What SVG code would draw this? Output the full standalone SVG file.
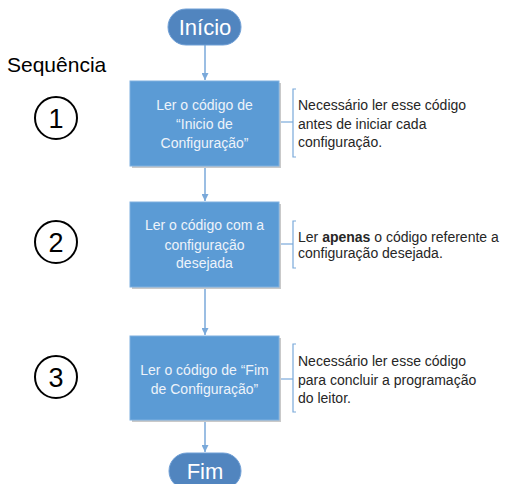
<svg xmlns="http://www.w3.org/2000/svg" width="505" height="484" viewBox="0 0 505 484">
<defs>
<style>
.pill{fill:#5185bf;stroke:#6f9fd6;stroke-width:1}
.pt{font-family:"Liberation Sans",Arial,sans-serif;font-size:22px;fill:#ffffff;text-anchor:middle}
.box{fill:#5b9bd5;stroke:#7eb0e0;stroke-width:1}
.shadow{fill:#c9c9c9}
.bt{font-family:"Liberation Sans",Arial,sans-serif;font-size:14px;fill:#eef3fa;text-anchor:middle}
.nt{font-family:"Liberation Sans",Arial,sans-serif;font-size:14px;fill:#262626}
.line{stroke:#7aa9da;stroke-width:1.5;fill:none}
.br{stroke:#7aa9da;stroke-width:1.2;fill:none}
.circ{fill:none;stroke:#000;stroke-width:2}
.num{font-family:"Liberation Sans",Arial,sans-serif;font-size:27px;fill:#000;text-anchor:middle}
</style>
<marker id="arr" viewBox="0 0 10 10" refX="10" refY="5" markerWidth="7" markerHeight="7" orient="auto" markerUnits="userSpaceOnUse">
<path d="M0,0 L10,5 L0,10 z" fill="#7aa9da"/>
</marker>
</defs>
<rect width="505" height="484" fill="#ffffff"/>
<text x="7" y="72" font-family="'Liberation Sans',Arial,sans-serif" font-size="21" fill="#000">Sequência</text>

<g id="connectors">
<line class="line" x1="205" y1="45" x2="205" y2="80" marker-end="url(#arr)"/>
<line class="line" x1="205" y1="166" x2="205" y2="201" marker-end="url(#arr)"/>
<line class="line" x1="205" y1="287" x2="205" y2="335" marker-end="url(#arr)"/>
<line class="line" x1="205" y1="420" x2="205" y2="452" marker-end="url(#arr)"/>
<line class="br" x1="279" y1="122" x2="293" y2="122"/>
<line class="br" x1="279" y1="244" x2="293" y2="244"/>
<line class="br" x1="279" y1="379" x2="293" y2="379"/>
</g>

<g id="inicio">
<rect class="pill" x="168" y="9" width="73" height="36" rx="18"/>
<text class="pt" x="205" y="35">Início</text>
</g>

<g id="step1">
<rect class="shadow" x="132" y="83" width="149" height="85"/>
<rect class="box" x="130" y="81" width="149" height="85"/>
<text class="bt" x="204.5" y="110">Ler o código de</text>
<text class="bt" x="204.5" y="129">“Inicio de</text>
<text class="bt" x="204.5" y="148">Configuração”</text>
</g>

<g id="step2">
<rect class="shadow" x="132" y="204" width="149" height="85"/>
<rect class="box" x="130" y="202" width="149" height="85"/>
<text class="bt" x="204.5" y="230">Ler o código com a</text>
<text class="bt" x="204.5" y="250">configuração</text>
<text class="bt" x="204.5" y="268">desejada</text>
</g>

<g id="step3">
<rect class="shadow" x="132" y="338" width="149" height="84"/>
<rect class="box" x="130" y="336" width="149" height="84"/>
<text class="bt" x="204.5" y="375">Ler o código de “Fim</text>
<text class="bt" x="204.5" y="394">de Configuração”</text>
</g>

<g id="fim">
<rect class="pill" x="169" y="453" width="72" height="36" rx="18"/>
<text class="pt" x="205" y="479">Fim</text>
</g>

<g id="note1">
<path class="br" d="M296,89 H293 V157 H296"/>
<text class="nt" x="298" y="110">Necessário ler esse código</text>
<text class="nt" x="298" y="129">antes de iniciar cada</text>
<text class="nt" x="298" y="147">configuração.</text>
</g>

<g id="note2">
<path class="br" d="M296,221 H293 V268 H296"/>
<text class="nt" x="298" y="242">Ler <tspan font-weight="bold">apenas</tspan> o código referente a</text>
<text class="nt" x="298" y="258">configuração desejada.</text>
</g>

<g id="note3">
<path class="br" d="M296,344 H293 V412 H296"/>
<text class="nt" x="298" y="366">Necessário ler esse código</text>
<text class="nt" x="298" y="385">para concluir a programação</text>
<text class="nt" x="298" y="403">do leitor.</text>
</g>

<g id="seq1">
<circle class="circ" cx="56" cy="118" r="21"/>
<text class="num" x="56" y="127.5">1</text>
</g>
<g id="seq2">
<circle class="circ" cx="56" cy="242" r="21"/>
<text class="num" x="56" y="251.5">2</text>
</g>
<g id="seq3">
<circle class="circ" cx="56" cy="377" r="21"/>
<text class="num" x="56" y="386.5">3</text>
</g>
</svg>
